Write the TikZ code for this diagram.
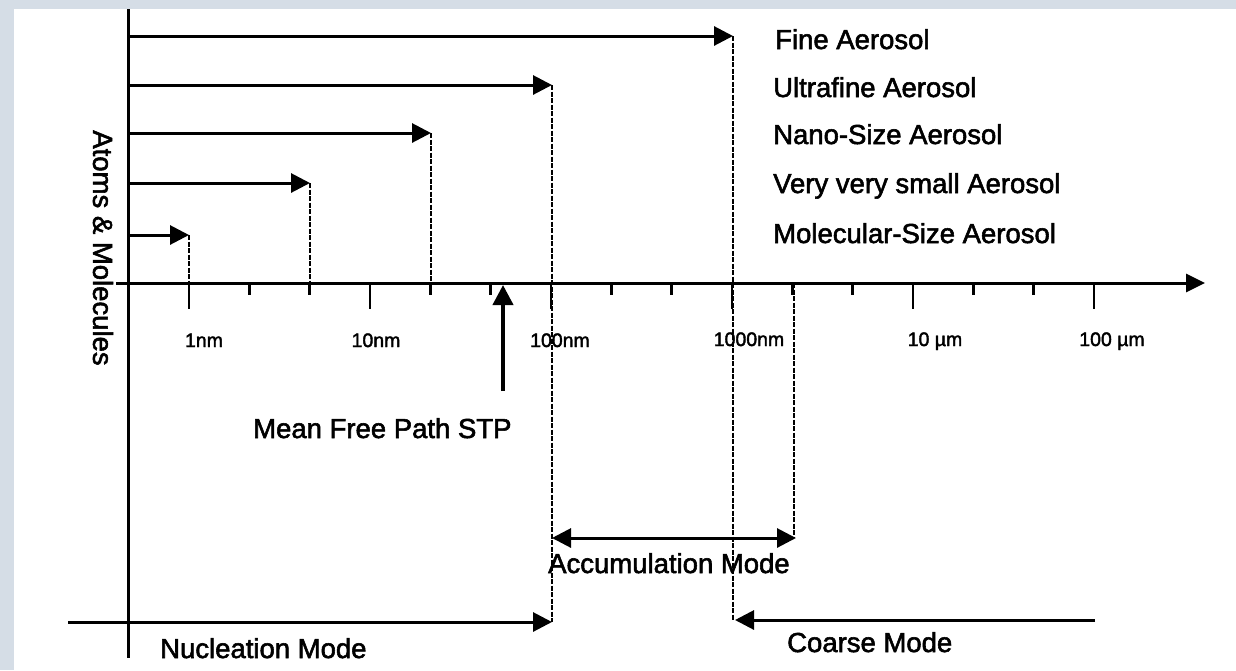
\documentclass[tikz,border=0pt]{standalone}
\usepackage{fontspec}
\setmainfont{Liberation Sans}
\newfontfamily\scanfont[FakeBold=2]{Liberation Sans}
\usetikzlibrary{arrows.meta}
\definecolor{bgc}{HTML}{D5DDE6}
\begin{document}
\begin{tikzpicture}[x=1pt,y=-1pt,
  bigtxt/.style={font=\scanfont\fontsize{27.5}{30}\selectfont, inner sep=0pt},
  smalltxt/.style={font=\scanfont\fontsize{19.5}{22}\selectfont, inner sep=0pt},
  axisline/.style={line width=3pt},
  axisarrow/.style={line width=3pt, -{Triangle[length=19pt,width=18pt]}},
  rangearrow/.style={line width=3pt, -{Triangle[length=19pt,width=19pt]}},
  bothways/.style={line width=3pt, {Triangle[length=19pt,width=19pt]}-{Triangle[length=19pt,width=19pt]}},
  mfparrow/.style={line width=4pt, -{Triangle[length=20pt,width=20pt]}},
  guide/.style={line width=1.1pt, dash pattern=on 5pt off 1.5pt},
  tickmark/.style={line width=2.5pt}]

\fill[bgc] (0,0) rectangle (1236,670);
\fill[white] (14,9) rectangle (1236,670);
\useasboundingbox (0,0) rectangle (1236,670);

% axes
\coordinate (vtop) at (128,9);
\coordinate (vbot) at (128,658);
\draw[axisline] (vtop) -- (vbot);
\coordinate (hleft) at (116,283);
\coordinate (hright) at (1205,283);
\draw[axisarrow] (hleft) -- (hright);

% ticks
\foreach \k in {0,...,15}{
  \pgfmathsetmacro{\tx}{189+60.33*\k}
  \pgfmathtruncatemacro{\r}{mod(\k,3)}
  \coordinate (t\k) at (\tx,283);
  \ifnum\r=0
    \coordinate (tb\k) at (\tx,309);
  \else
    \coordinate (tb\k) at (\tx,295);
  \fi
  \draw[tickmark] (t\k) -- (tb\k);
}

% range arrows
\coordinate (fineS) at (128,36);  \coordinate (fineE) at (733,36);
\coordinate (ultraS) at (128,85); \coordinate (ultraE) at (552,85);
\coordinate (nanoS) at (128,133); \coordinate (nanoE) at (431,133);
\coordinate (vvsS) at (128,183);  \coordinate (vvsE) at (310,183);
\coordinate (molS) at (128,235);  \coordinate (molE) at (189,235);
\draw[rangearrow] (fineS) -- (fineE);
\draw[rangearrow] (ultraS) -- (ultraE);
\draw[rangearrow] (nanoS) -- (nanoE);
\draw[rangearrow] (vvsS) -- (vvsE);
\draw[rangearrow] (molS) -- (molE);

% mode arrows
\coordinate (nucS) at (68,622);   \coordinate (nucE) at (552,622);
\coordinate (coaS) at (1095,620); \coordinate (coaE) at (735,620);
\coordinate (accL) at (552,538);  \coordinate (accR) at (796,538);
\draw[rangearrow] (nucS) -- (nucE);
\draw[rangearrow] (coaS) -- (coaE);
\draw[bothways] (accL) -- (accR);

% dashed guides
\coordinate (g733b) at (733,620);
\coordinate (g552b) at (552,622);
\coordinate (g431b) at (431,283);
\coordinate (g310b) at (310,283);
\coordinate (g189b) at (189,283);
\coordinate (g794t) at (794,283);
\coordinate (g794b) at (794,538);
\draw[guide] (fineE) -- (g733b);
\draw[guide] (ultraE) -- (g552b);
\draw[guide] (nanoE) -- (g431b);
\draw[guide] (vvsE) -- (g310b);
\draw[guide] (molE) -- (g189b);
\draw[guide] (g794t) -- (g794b);

% mean free path arrow
\coordinate (mfpS) at (503,391);
\coordinate (mfpE) at (503,285);
\draw[mfparrow] (mfpS) -- (mfpE);

% right labels
\node[bigtxt, anchor=base west] (lfine) at (775,49) {Fine Aerosol};
\node[bigtxt, anchor=base west] (lultra) at (773,97) {Ultrafine Aerosol};
\node[bigtxt, anchor=base west] (lnano) at (773,144) {Nano-Size Aerosol};
\node[bigtxt, anchor=base west] (lvvs) at (773,193) {Very very small Aerosol};
\node[bigtxt, anchor=base west] (lmol) at (773,243) {Molecular-Size Aerosol};

% axis labels
\node[smalltxt, anchor=base] (a1) at (204,347) {1nm};
\node[smalltxt, anchor=base] (a10) at (376,347) {10nm};
\node[smalltxt, anchor=base] (a100) at (560,347) {100nm};
\node[smalltxt, anchor=base] (a1000) at (749,346) {1000nm};
\node[smalltxt, anchor=base] (a10u) at (935,346) {10 µm};
\node[smalltxt, anchor=base] (a100u) at (1112,346) {100 µm};

% other labels
\node[bigtxt, anchor=base west] (lmfp) at (253,438) {Mean Free Path STP};
\node[bigtxt, anchor=base west] (lacc) at (548,573) {Accumulation Mode};
\node[bigtxt, anchor=base west] (lnuc) at (160,658) {Nucleation Mode};
\node[bigtxt, anchor=base west] (lcoa) at (787,652) {Coarse Mode};
\node[bigtxt, rotate=-90] (latoms) at (103,248) {Atoms \& Molecules};

\end{tikzpicture}
\end{document}
